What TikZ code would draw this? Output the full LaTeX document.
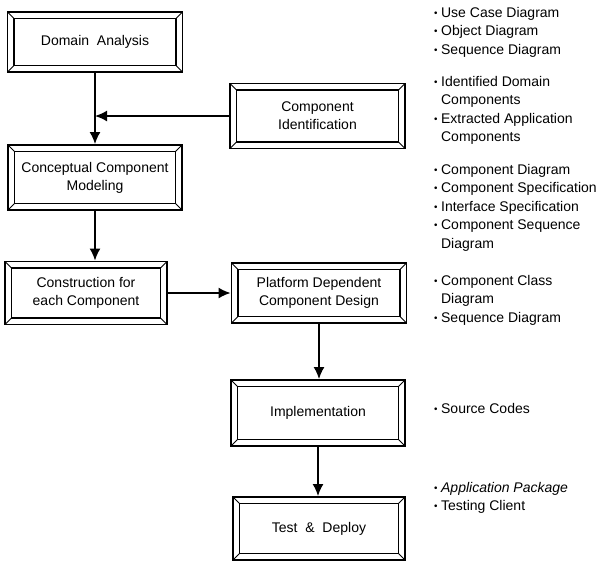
\documentclass[tikz,border=0pt]{standalone}
\usepackage{fontspec}
\setmainfont{Liberation Sans}
\usepackage{graphicx}
\usetikzlibrary{arrows.meta}
\newcommand\puce{\raisebox{0.12ex}{\scalebox{0.7}{\textbullet}}}
\newcommand\Liste[1]{\begin{tabular}[t]{@{}l@{\hspace{3.5pt}}l@{}}#1\end{tabular}}
\begin{document}
\begin{tikzpicture}[x=1pt,y=-1pt]
		\tikzstyle{fleche}=[-{Latex[length=12pt,width=11pt]},line width=1.6pt]
		\def\Retrait{6.5pt}
		\tikzstyle{boite}=[draw,line width=1.9pt,inner sep=0pt,align=center,
			font=\fontsize{14}{18}\selectfont,
			path picture={
				\draw[line width=1.2pt] ([shift={(\Retrait,-\Retrait)}]path picture bounding box.north west) rectangle ([shift={(-\Retrait,\Retrait)}]path picture bounding box.south east);
				\draw[line width=0.9pt] (path picture bounding box.north west) -- ++(\Retrait,-\Retrait);
				\draw[line width=0.9pt] (path picture bounding box.north east) -- ++(-\Retrait,-\Retrait);
				\draw[line width=0.9pt] (path picture bounding box.south west) -- ++(\Retrait,\Retrait);
				\draw[line width=0.9pt] (path picture bounding box.south east) -- ++(-\Retrait,\Retrait);
			}]
		\tikzstyle{liste}=[anchor=base west,inner sep=0pt,font=\fontsize{14}{18.5}\selectfont]
		\useasboundingbox (0,0) rectangle (601,563);
		% boxes
		\node[boite,minimum width=175,minimum height=60] (DA) at (95,42) {Domain \ Analysis};
		\node[boite,minimum width=175,minimum height=65] (CI) at (317.5,116) {Component\\Identification};
		\node[boite,minimum width=174,minimum height=65] (CCM) at (95,177.5) {Conceptual Component\\Modeling};
		\node[boite,minimum width=162,minimum height=63] (CfC) at (86,293) {Construction for\\each Component};
		\node[boite,minimum width=175,minimum height=60] (PDC) at (319,293) {Platform Dependent\\Component Design};
		\node[boite,minimum width=174,minimum height=66] (Impl) at (318,413) {Implementation};
		\node[boite,minimum width=172,minimum height=63] (TD) at (319,528.5) {Test \ \& \ Deploy};
		% arrows
		\coordinate (J) at (DA.south |- CI.west);
		\draw[fleche] (DA.south) -- (DA.south |- CCM.north);
		\draw[fleche] (CI.west) -- (J);
		\draw[fleche] (CCM.south) -- (CCM.south |- CfC.north);
		\draw[fleche] (CfC.east) -- (CfC.east -| PDC.west);
		\draw[fleche] (PDC.south) -- (PDC.south |- Impl.north);
		\draw[fleche] (Impl.south) -- (Impl.south |- TD.north);
		% outputs
		\node[liste] (oDA) at (434,17) {\Liste{\puce & Use Case Diagram\\ \puce & Object Diagram\\ \puce & Sequence Diagram}};
		\node[liste] (oCI) at (434,86) {\Liste{\puce & Identified Domain\\ & Components\\ \puce & Extracted Application\\ & Components}};
		\node[liste] (oCCM) at (434,174) {\Liste{\puce & Component Diagram\\ \puce & Component Specification\\ \puce & Interface Specification\\ \puce & Component Sequence\\ & Diagram}};
		\node[liste] (oPDC) at (434,285) {\Liste{\puce & Component Class\\ & Diagram\\ \puce & Sequence Diagram}};
		\node[liste] (oImpl) at (434,413) {\Liste{\puce & Source Codes}};
		\node[liste] (oTD) at (434,492) {\Liste{\puce & \textit{Application Package}\\ \puce & Testing Client}};
	\end{tikzpicture}
\end{document}
